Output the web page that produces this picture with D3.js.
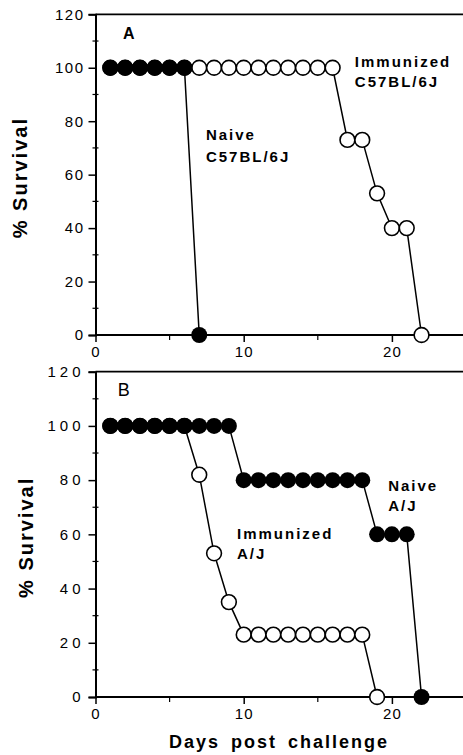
<!DOCTYPE html>
<html>
<head>
<meta charset="utf-8">
<script src="https://cdn.jsdelivr.net/npm/d3@7"></script>
<style>
body { margin: 0; background: #fff; }
text { font-family: "Liberation Sans", Arial, Helvetica, sans-serif; fill: #000; }
</style>
</head>
<body>
<script>
var width = 463,
    height = 755;

// panel A: C57BL/6J
var daysA_naive = [1, 2, 3, 4, 5, 6, 7];
var survA_naive = [100, 100, 100, 100, 100, 100, 0];
var daysA_imm = [1, 2, 3, 4, 5, 6, 7, 8, 9, 10, 11, 12, 13, 14, 15, 16, 17, 18, 19, 20, 21, 22];
var survA_imm = [100, 100, 100, 100, 100, 100, 100, 100, 100, 100, 100, 100, 100, 100, 100, 100, 73, 73, 53, 40, 40, 0];

// panel B: A/J
var daysB_naive = [1, 2, 3, 4, 5, 6, 7, 8, 9, 10, 11, 12, 13, 14, 15, 16, 17, 18, 19, 20, 21, 22];
var survB_naive = [100, 100, 100, 100, 100, 100, 100, 100, 100, 80, 80, 80, 80, 80, 80, 80, 80, 80, 60, 60, 60, 0];
var daysB_imm = [1, 2, 3, 4, 5, 6, 7, 8, 9, 10, 11, 12, 13, 14, 15, 16, 17, 18, 19];
var survB_imm = [100, 100, 100, 100, 100, 100, 82, 53, 35, 23, 23, 23, 23, 23, 23, 23, 23, 23, 0];

var yTicks = [0, 20, 40, 60, 80, 100, 120];
var yMinor = [10, 30, 50, 70, 90, 110];
var xTicks = [0, 10, 20];
var xMinor = [5, 15];

var svg = d3.select("body").append("svg").attr("width", width).attr("height", height);

var X = d3.scaleLinear().domain([0, 25]).range([95.5, 466]);

function zip(xs, ys) {
	return xs.map(function(d, i) { return {x: d, y: ys[i]}; });
}

function panel(y0, y1, tickSpacing, labelX, series) {
	var Y = d3.scaleLinear().domain([0, 120]).range([y0, y1]);
	var g = svg.append("g");

	// top border
	g.append("line").attr("x1", X(0)).attr("x2", width).attr("y1", Y(120)).attr("y2", Y(120))
		.style("stroke", "black").style("stroke-width", 1.7);

	// y axis
	var ya = g.append("g").attr("transform", "translate(" + X(0) + ",0)")
		.call(d3.axisLeft(Y).tickValues(yTicks).tickSize(7).tickPadding(4));
	ya.select(".domain").style("stroke-width", 2);
	ya.selectAll(".tick line").style("stroke-width", 1.5);
	ya.selectAll("text").style("font-size", "15px").style("letter-spacing", tickSpacing + "px");
	g.selectAll(".ymin").data(yMinor).enter().append("line")
		.attr("x1", X(0) - 3).attr("x2", X(0) + 3)
		.attr("y1", function(d) { return Y(d); }).attr("y2", function(d) { return Y(d); })
		.style("stroke", "black").style("stroke-width", 1.2);

	// x axis
	var xa = g.append("g").attr("transform", "translate(0," + Y(0) + ")")
		.call(d3.axisBottom(X).tickValues(xTicks).tickSize(7).tickPadding(4).tickSizeOuter(0));
	xa.select(".domain").attr("d", "M" + X(0) + ",0H" + width).style("stroke-width", 2);
	xa.selectAll(".tick line").style("stroke-width", 1.5);
	xa.selectAll("text").style("font-size", "15px").style("letter-spacing", "1px");
	g.selectAll(".xmin").data(xMinor).enter().append("line")
		.attr("x1", function(d) { return X(d); }).attr("x2", function(d) { return X(d); })
		.attr("y1", Y(0)).attr("y2", Y(0) + 5)
		.style("stroke", "black").style("stroke-width", 1.2);

	// y label
	g.append("text")
		.attr("transform", "translate(" + labelX + "," + ((Y(0) + Y(120)) / 2 + 3) + ") rotate(-90)")
		.attr("text-anchor", "middle")
		.style("font-size", "20px").style("font-weight", "bold").style("letter-spacing", "2px")
		.text("% Survival");

	var line = d3.line().x(function(d) { return X(d.x); }).y(function(d) { return Y(d.y); });

	series.forEach(function(s) {
		var pts = zip(s.days, s.surv);
		g.append("path").datum(pts).attr("d", line)
			.style("fill", "none").style("stroke", "black").style("stroke-width", 1.5);
		g.selectAll(null).data(pts).enter().append("circle")
			.attr("cx", function(d) { return X(d.x); })
			.attr("cy", function(d) { return Y(d.y); })
			.attr("r", s.filled ? 8 : 7.4)
			.style("fill", s.filled ? "black" : "white")
			.style("stroke", "black")
			.style("stroke-width", s.filled ? 0 : 1.6);
	});

	return {g: g, Y: Y};
}

function label(p, day, val, lines, weight, size, dy) {
	var t = p.g.append("text").attr("x", X(day)).attr("y", p.Y(val))
		.style("font-size", size + "px").style("font-weight", weight).style("letter-spacing", "2px");
	lines.forEach(function(l, i) {
		t.append("tspan").attr("x", X(day)).attr("dy", i == 0 ? 0 : dy).text(l);
	});
}

var pA = panel(335, 14.3, 1.5, 27, [
	{days: daysA_imm, surv: survA_imm, filled: false},
	{days: daysA_naive, surv: survA_naive, filled: true}
]);
label(pA, 1.85, 110.9, ["A"], "bold", 16, 0);
label(pA, 7.45, 72.8, ["Naive", "C57BL/6J"], "bold", 15, 22);
label(pA, 17.5, 100.1, ["Immunized", "C57BL/6J"], "bold", 15, 20);

var pB = panel(697, 371.7, 4, 33, [
	{days: daysB_imm, surv: survB_imm, filled: false},
	{days: daysB_naive, surv: survB_naive, filled: true}
]);
label(pB, 1.5, 111, ["B"], "normal", 18, 0);
label(pB, 19.75, 76.1, ["Naive", "A/J"], "bold", 15, 20);
label(pB, 9.55, 58.4, ["Immunized", "A/J"], "bold", 15, 20);

// x label
svg.append("text").attr("x", 279).attr("y", 748).attr("text-anchor", "middle")
	.style("font-size", "18px").style("font-weight", "bold")
	.style("letter-spacing", "2px").style("word-spacing", "4px")
	.text("Days post challenge");
</script>
</body>
</html>
